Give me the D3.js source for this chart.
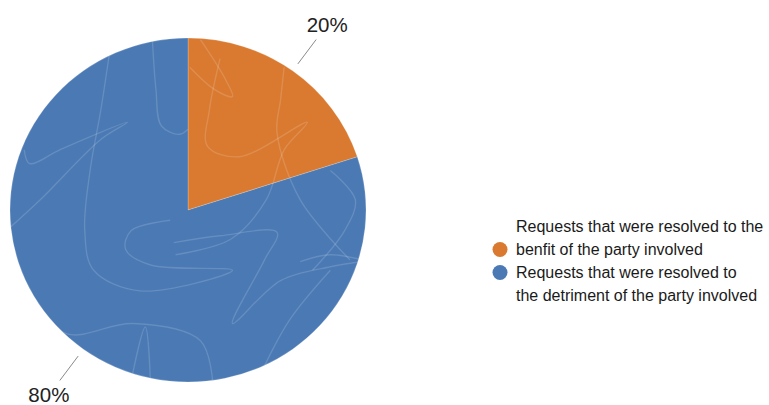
<!DOCTYPE html>
<html>
<head>
<meta charset="utf-8">
<script src="https://cdn.jsdelivr.net/npm/d3@7"></script>
<style>
  html, body { margin: 0; padding: 0; background: #fff; }
  svg { display: block; }
  text { font-family: "Liberation Sans", Arial, sans-serif; }
</style>
</head>
<body>
<svg id="chart" width="769" height="405"></svg>
<script>
// Share of requests by outcome
const categories = [
  "Requests that were resolved to the benfit of the party involved",
  "Requests that were resolved to the detriment of the party involved"
];
const values = [20, 80];
const valueLabels = ["20%", "80%"];
const legendLines = [
  ["Requests that were resolved to the", "benfit of the party involved"],
  ["Requests that were resolved to", "the detriment of the party involved"]
];
const colors = ["#d97a30", "#4a79b4"];

const W = 769, H = 405;
const cx = 188, cy = 210;
const R = 172;          // vertical radius
const sx = 178 / 172;   // slight horizontal stretch of the disc

const svg = d3.select("#chart");

const color = d3.scaleOrdinal().domain(categories).range(colors);

const pie = d3.pie().sort(null).value(d => d.value);
const arcs = pie(categories.map((c, i) => ({ name: c, value: values[i], label: valueLabels[i] })));

const arc = d3.arc().innerRadius(0).outerRadius(R);

const g = svg.append("g").attr("transform", `translate(${cx},${cy}) scale(${sx},1)`);

// clip region for the scribble texture
svg.append("defs").append("clipPath").attr("id", "disc")
  .append("circle").attr("r", R);

g.selectAll("path.slice")
  .data(arcs)
  .enter().append("path")
  .attr("class", "slice")
  .attr("d", arc)
  .attr("fill", d => color(d.data.name))
  .attr("stroke", "#ffffff")
  .attr("stroke-opacity", 0.35)
  .attr("stroke-width", 0.6)
  .attr("vector-effect", "non-scaling-stroke");

// Hand-drawn scribble texture over the disc (unit-radius coordinates)
const scribbles = [
  [[-0.20,-0.99],[-0.18,-0.70],[-0.15,-0.49],[-0.05,-0.44],[0.0,-0.47]],
  [[0.07,-0.99],[0.21,-0.76],[0.25,-0.66],[0.15,-0.70],[0.01,-0.83]],
  [[0.18,-0.88],[0.12,-0.58],[0.11,-0.37],[0.29,-0.31],[0.67,-0.51],[0.54,-0.35],[0.44,-0.06],[0.24,0.17],[-0.07,0.26]],
  [[0.54,-0.83],[0.52,-0.64],[0.50,-0.45],[0.63,-0.06],[0.91,0.29]],
  [[-0.44,-0.92],[-0.49,-0.58],[-0.55,-0.23],[-0.58,0.12],[-0.53,0.35],[-0.27,0.47],[0.25,0.35],[-0.21,0.32],[-0.35,0.23],[-0.32,0.12],[-0.10,0.06]],
  [[-0.92,-0.35],[-0.89,-0.27],[-0.72,-0.35],[-0.34,-0.51],[-0.49,-0.41],[-0.83,-0.06],[-1.02,0.12]],
  [[-0.08,0.19],[0.18,0.15],[0.50,0.13],[0.43,0.29],[0.25,0.66],[0.52,0.41],[0.80,0.33],[0.98,0.30]],
  [[-0.90,0.50],[-0.68,0.72],[-0.31,0.66],[0.07,0.76],[0.14,1.02]],
  [[-0.33,1.05],[-0.24,0.68],[-0.21,1.04]],
  [[0.63,0.30],[0.80,0.26],[1.02,0.30]],
  [[0.80,0.35],[0.57,0.64],[0.40,0.97]],
  [[0.80,-0.23],[0.94,-0.06],[0.88,0.12],[0.70,0.35]]
];
const scribbleLine = d3.line()
  .x(p => p[0] * R)
  .y(p => p[1] * R)
  .curve(d3.curveCatmullRom.alpha(0.5));

g.append("g")
  .attr("clip-path", "url(#disc)")
  .selectAll("path")
  .data(scribbles)
  .enter().append("path")
  .attr("d", scribbleLine)
  .attr("fill", "none")
  .attr("stroke", "#ffffff")
  .attr("stroke-opacity", 0.15)
  .attr("stroke-width", 1.4)
  .attr("vector-effect", "non-scaling-stroke");

// Value labels with leader lines
const pt = (a, r) => [cx + Math.sin(a) * r * sx, cy - Math.cos(a) * r];
const mid = d => (d.startAngle + d.endAngle) / 2;

svg.selectAll("line.leader")
  .data(arcs)
  .enter().append("line")
  .attr("class", "leader")
  .attr("x1", d => pt(mid(d), R * 1.05)[0])
  .attr("y1", d => pt(mid(d), R * 1.05)[1])
  .attr("x2", d => pt(mid(d), R * 1.225)[0])
  .attr("y2", d => pt(mid(d), R * 1.225)[1])
  .attr("stroke", "#8a8a8a")
  .attr("stroke-width", 1);

svg.selectAll("text.value")
  .data(arcs)
  .enter().append("text")
  .attr("class", "value")
  .attr("x", d => pt(mid(d), R * 1.33)[0])
  .attr("y", d => pt(mid(d), R * 1.33)[1])
  .attr("dy", "0.33em")
  .attr("text-anchor", "middle")
  .attr("font-size", 20.5)
  .attr("fill", "#222222")
  .text(d => d.data.label);

// Legend
const legend = svg.append("g").attr("transform", "translate(500,0)");
const itemY = d3.scalePoint().domain(categories).range([249.5, 272.5]);

const items = legend.selectAll("g.item")
  .data(categories)
  .enter().append("g")
  .attr("class", "item");

items.append("circle")
  .attr("cx", 0)
  .attr("cy", d => itemY(d))
  .attr("r", 7.5)
  .attr("fill", d => color(d));

items.each(function(d, i) {
  const t = d3.select(this).append("text")
    .attr("font-size", 16)
    .attr("fill", "#1a1a1a");
  legendLines[i].forEach((line, j) => {
    t.append("tspan")
      .attr("x", 16)
      .attr("y", i === 0 ? itemY(d) - 17.5 + j * 23 : itemY(d) + 5.5 + j * 23)
      .text(line);
  });
});
</script>
</body>
</html>
